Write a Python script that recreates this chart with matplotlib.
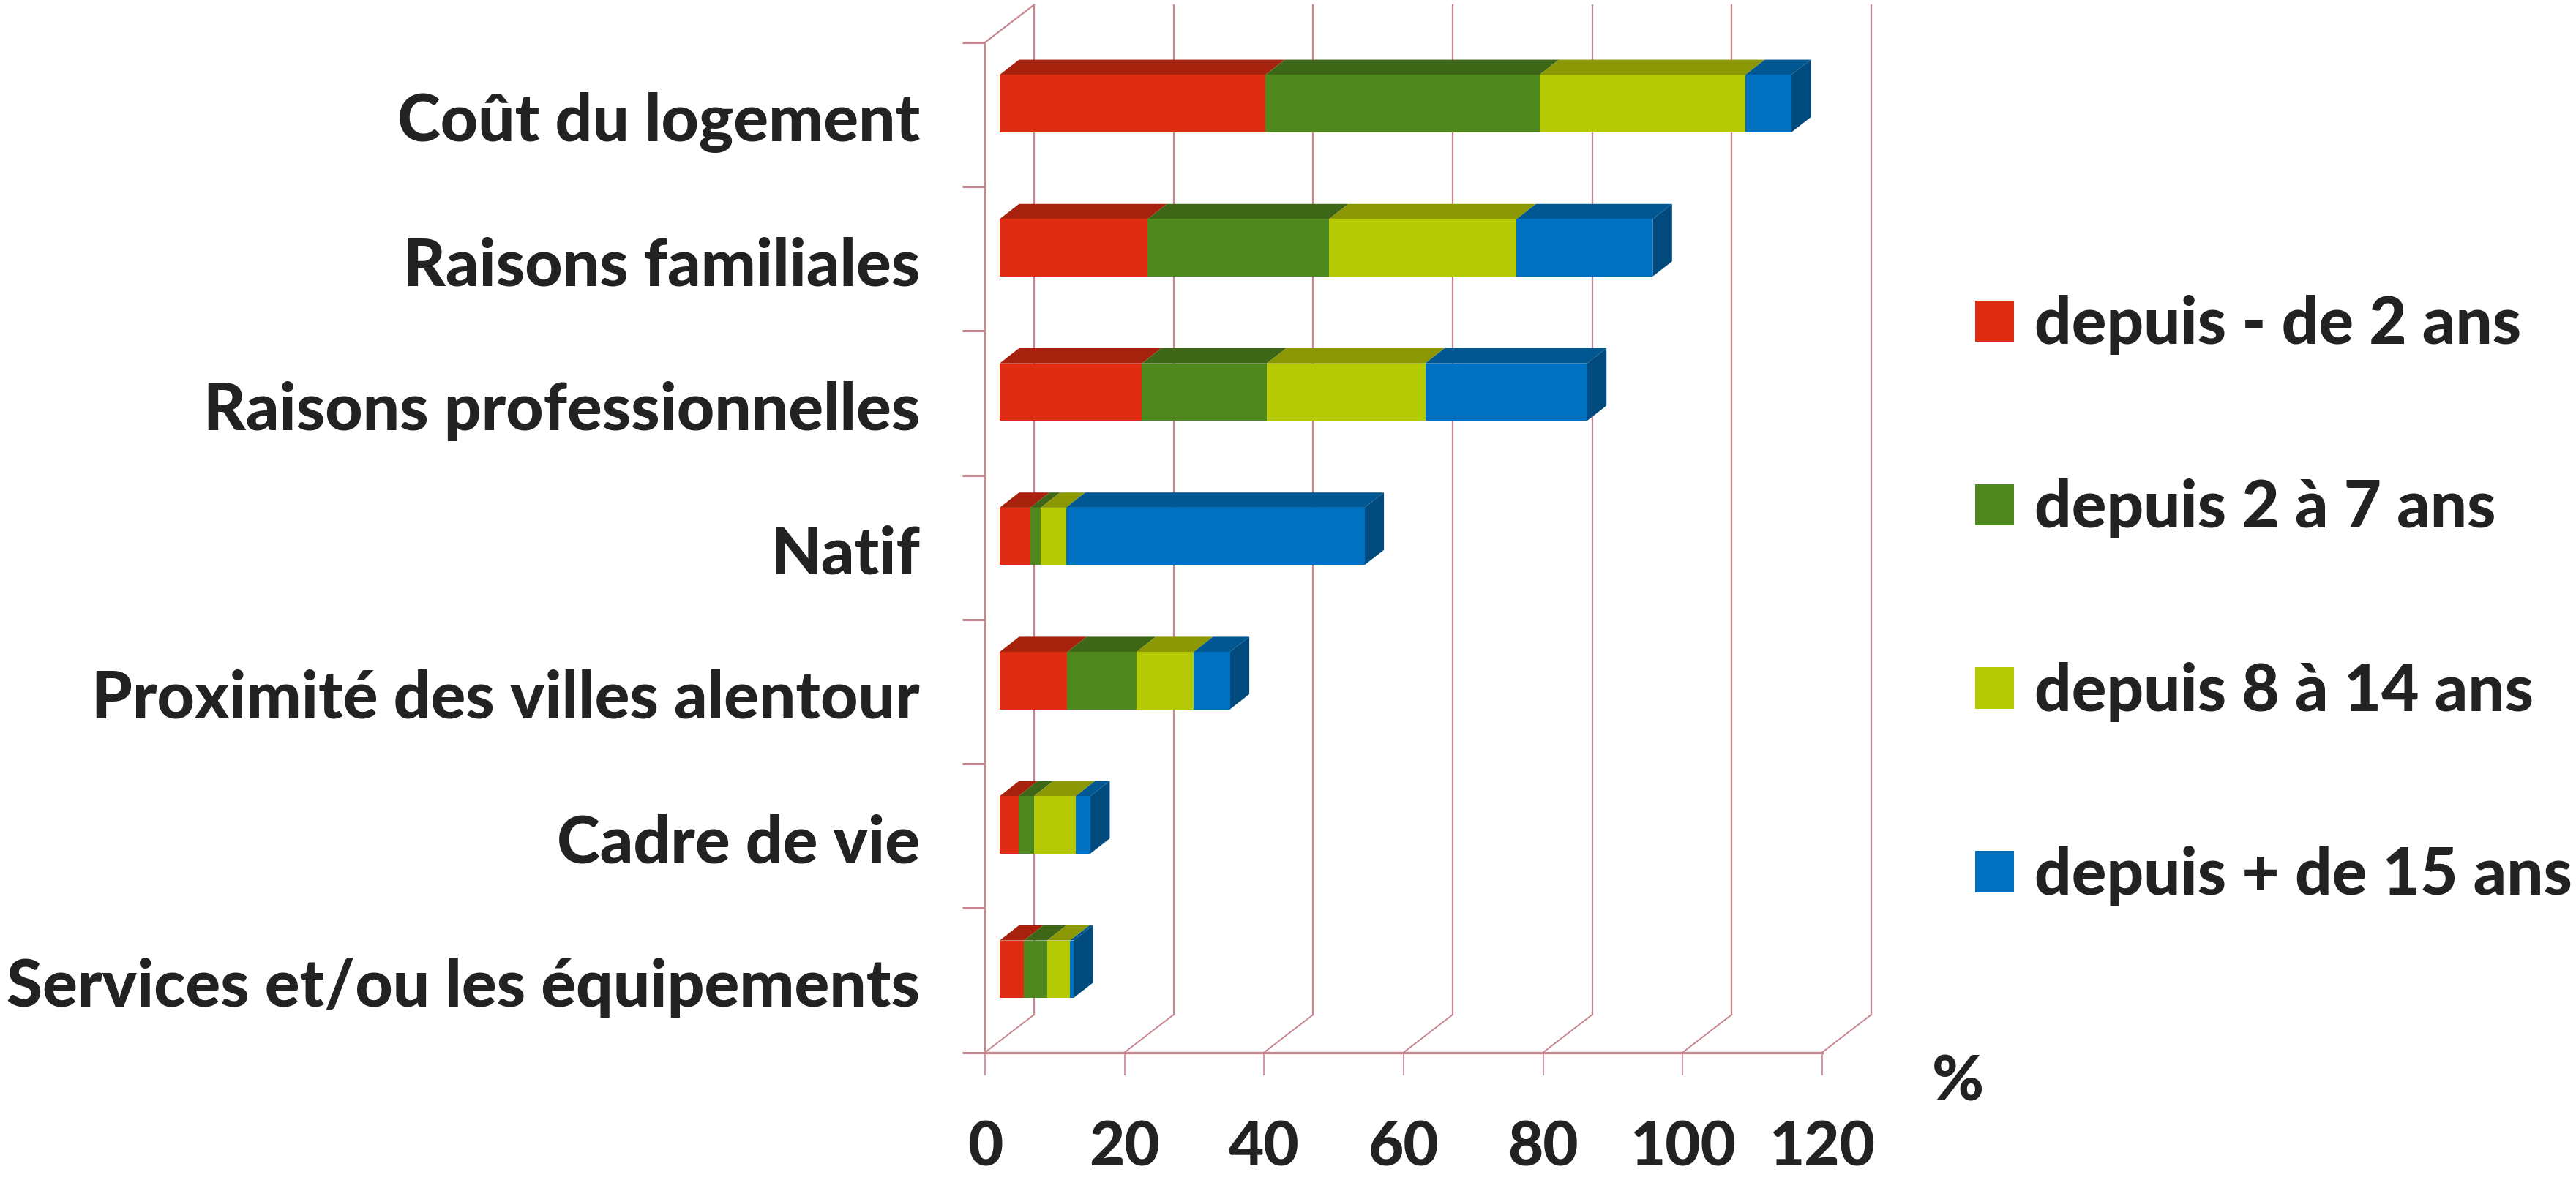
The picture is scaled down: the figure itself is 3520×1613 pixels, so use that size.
import matplotlib
matplotlib.use("Agg")
import matplotlib.pyplot as plt
from matplotlib.patches import Patch
from matplotlib.transforms import ScaledTranslation

categories = ["Coût du logement", "Raisons familiales", "Raisons professionnelles", "Natif",
              "Proximité des villes alentour", "Cadre de vie", "Services et/ou les équipements"]
series_names = ["depuis - de 2 ans", "depuis 2 à 7 ans", "depuis 8 à 14 ans", "depuis + de 15 ans"]
moins_2 = [38.1, 21.2, 20.4, 4.4, 9.7, 2.7, 3.5]
de_2_a_7 = [39.3, 26.0, 17.9, 1.5, 9.9, 2.2, 3.3]
de_8_a_14 = [29.5, 26.9, 22.7, 3.6, 8.2, 6.0, 3.3]
plus_15 = [6.6, 19.5, 23.2, 42.8, 5.2, 2.1, 0.5]
series = [moins_2, de_2_a_7, de_8_a_14, plus_15]
x_ticks = [0, 20, 40, 60, 80, 100, 120]

front_colors = ["#DE2D12", "#4F881E", "#B5C905", "#0071C1"]
top_colors = ["#A6220C", "#3D6716", "#8B9703", "#005791"]
side_color = "#004A7D"
grid_color = "#C8868F"
text_color = "#222222"
FAM = ["Lato", "DejaVu Sans"]
WEIGHT = 900

W, H = 3520, 1613
fig = plt.figure(figsize=(W / 100, H / 100), dpi=100, facecolor="white")
x0, x1, y_top, y_bot = 1346, 2490, 58, 1438.5
ax = fig.add_axes([x0 / W, 1 - y_bot / H, (x1 - x0) / W, (y_bot - y_top) / H])
ax.set_xlim(0, 120)
ax.set_ylim(6.5, -0.5)
ax.patch.set_visible(False)
plt.rcParams["font.family"] = FAM

px_x = 120 / (x1 - x0)
px_y = 7 / (y_bot - y_top)
wall_dx, wall_dy = 67 * px_x, 51.5 * px_y
bar_sx, bar_sy = 20 * px_x, 15.1 * px_y
bar_dx, bar_dy = 26.5 * px_x, 20.7 * px_y
bar_h = 78.5 * px_y

for t in x_ticks:
    ax.plot([t + wall_dx, t + wall_dx], [-0.5 - wall_dy, 6.5 - wall_dy], color=grid_color, lw=1.6, clip_on=False, zorder=1)
    ax.plot([t, t + wall_dx], [6.5, 6.5 - wall_dy], color=grid_color, lw=1.4, clip_on=False, zorder=1)
ax.plot([0, wall_dx], [-0.5, -0.5 - wall_dy], color=grid_color, lw=1.6, clip_on=False, zorder=1)

for s in ["top", "right"]:
    ax.spines[s].set_visible(False)
for s in ["left", "bottom"]:
    ax.spines[s].set_color(grid_color)
ax.spines["left"].set_linewidth(1.6)
ax.spines["bottom"].set_linewidth(2.4)

ax.set_xticks(x_ticks)
ax.set_xticklabels([str(t) for t in x_ticks])
ax.tick_params(axis="x", length=22, width=1.2, color=grid_color, pad=44, labelsize=60, labelcolor=text_color)
for l in ax.get_xticklabels():
    l.set_fontweight(WEIGHT)
    l.set_fontfamily(FAM)

ax.set_yticks([i - 0.5 for i in range(8)], minor=False)
ax.set_yticklabels([])
ax.tick_params(axis="y", which="major", length=22, width=2.2, color=grid_color)
ax.set_yticks(range(7), minor=True)
ax.set_yticklabels(categories, minor=True, fontsize=64.2, fontweight=WEIGHT, color=text_color, fontfamily=FAM)
ax.tick_params(axis="y", which="minor", length=0, pad=64)
for l in ax.get_yticklabels(minor=True):
    l.set_transform(l.get_transform() + ScaledTranslation(0, -3 / 100, fig.dpi_scale_trans))

for i in range(7):
    yc = i - bar_sy
    left = bar_sx
    for k, s in enumerate(series):
        v = s[i]
        ax.barh(yc, v, bar_h, left=left, color=front_colors[k], lw=0, zorder=4, clip_on=False)
        ytop = yc - bar_h / 2
        ax.fill([left, left + v, left + v + bar_dx, left + bar_dx],
                [ytop, ytop, ytop - bar_dy, ytop - bar_dy], color=top_colors[k], lw=0, zorder=3, clip_on=False)
        left += v
    ybot = yc + bar_h / 2
    ax.fill([left, left + bar_dx, left + bar_dx, left],
            [ybot, ybot - bar_dy, ybot - bar_h - bar_dy, ybot - bar_h], color=side_color, lw=0, zorder=3, clip_on=False)

fig.text(2675 / W, 1 - 1480 / H, "%", fontsize=62, fontweight=WEIGHT, color=text_color,
         ha="center", va="center", family=FAM)

handles = [Patch(color=c, lw=0) for c in front_colors]
leg = fig.legend(handles, series_names, loc="center left", bbox_to_anchor=(2699 / W, 1 - 820.5 / H),
                 frameon=False, labelcolor=text_color, handlelength=0.6, handleheight=0.6,
                 handletextpad=0.31, labelspacing=1.9, borderpad=0, borderaxespad=0,
                 prop={"family": FAM, "weight": WEIGHT, "size": 64})

fig.savefig("out.png", dpi=100, facecolor="white")
